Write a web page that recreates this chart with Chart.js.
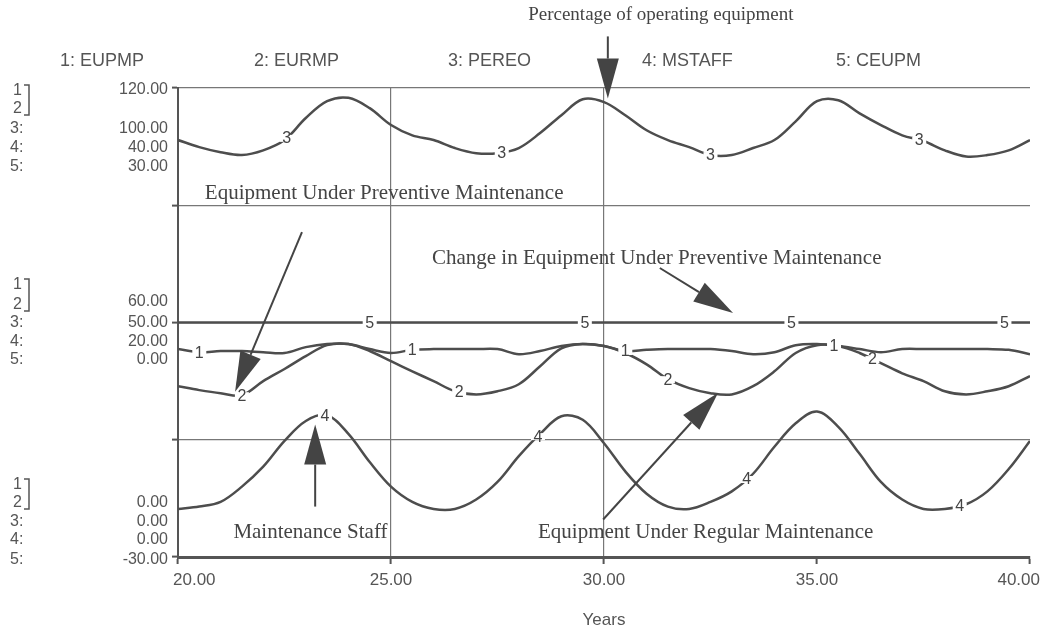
<!DOCTYPE html>
<html>
<head>
<meta charset="utf-8">
<script src="https://cdn.jsdelivr.net/npm/chart.js@4"></script>
<style>
  html, body { margin: 0; padding: 0; background: #fff; }
  #wrap { width: 1040px; height: 635px; }
</style>
</head>
<body>
<div id="wrap"><canvas id="stellaChart"></canvas></div>
<script>
// time axis (Years)
const years = [20, 20.5, 21, 21.5, 22, 22.5, 23, 23.5, 24, 24.5, 25, 25.5, 26, 26.5, 27, 27.5, 28, 28.5, 29, 29.5,
  30, 30.5, 31, 31.5, 32, 32.5, 33, 33.5, 34, 34.5, 35, 35.5, 36, 36.5, 37, 37.5, 38, 38.5, 39, 39.5, 40];

// 1: EUPMP
const eupmp = [53.2, 52.4, 52.7, 52.7, 52.4, 52.2, 53.7, 54.5, 54.5, 53.2, 52.2, 53.0, 53.2, 53.2, 53.2, 53.2, 51.9, 52.7, 54.0, 54.5,
  54.0, 52.7, 53.0, 53.2, 53.2, 53.2, 52.7, 51.9, 52.4, 54.2, 54.5, 54.0, 53.2, 52.4, 53.2, 53.2, 53.2, 53.2, 53.2, 53.0, 51.9];
// 2: EURMP
const eurmp = [43.7, 42.7, 41.9, 41.4, 45.0, 48.1, 51.4, 54.2, 54.5, 52.7, 50.1, 47.5, 45.0, 42.4, 41.6, 42.4, 44.2, 48.8, 53.4, 54.5,
  54.0, 52.2, 49.3, 45.5, 43.2, 41.9, 41.6, 43.7, 47.5, 52.2, 54.2, 54.0, 52.2, 49.6, 47.0, 45.0, 42.4, 41.6, 42.4, 43.7, 46.3];
// 3: PEREO
const pereo = [88.9, 87.4, 86.3, 85.7, 86.7, 88.9, 93.6, 97.2, 97.9, 95.7, 92.1, 89.9, 88.9, 87.2, 86.1, 86.1, 87.2, 90.4, 94.2, 97.6,
  97.0, 94.2, 91.0, 88.9, 87.4, 85.7, 85.7, 87.2, 88.9, 92.9, 97.2, 97.4, 94.6, 92.1, 89.9, 88.7, 86.7, 85.4, 85.7, 86.7, 88.9];
// 4: MSTAFF
const mstaff = [4.1, 4.3, 4.7, 6.0, 7.7, 9.9, 11.6, 12.1, 10.5, 8.1, 6.0, 4.7, 4.1, 4.1, 4.9, 6.4, 8.6, 10.5, 12.0, 11.7,
  9.7, 7.3, 5.4, 4.3, 4.1, 4.7, 5.6, 7.1, 9.4, 11.4, 12.4, 11.1, 8.8, 6.4, 4.9, 4.1, 4.1, 4.5, 5.6, 7.5, 9.9];
// 5: CEUPM
const ceupm = [0, 0, 0, 0, 0, 0, 0, 0, 0, 0, 0, 0, 0, 0, 0, 0, 0, 0, 0, 0,
  0, 0, 0, 0, 0, 0, 0, 0, 0, 0, 0, 0, 0, 0, 0, 0, 0, 0, 0, 0, 0];

const seriesNames = ['EUPMP', 'EURMP', 'PEREO', 'MSTAFF', 'CEUPM'];
// scale of each series: bottom / top (1 and 2 share one scale)
const scaleMin = [0, 0, 0, 0, -30];
const scaleMax = [120, 120, 100, 40, 30];
const xTicks = [20, 25, 30, 35, 40];

// where the curve numbers sit along each line (years)
const numberYears = [
  [20.5, 25.5, 30.5, 35.4],
  [21.5, 26.6, 31.5, 36.3],
  [22.55, 27.6, 32.5, 37.4],
  [23.45, 28.45, 33.35, 38.35],
  [24.5, 29.55, 34.4, 39.4]
];

// text notes and arrows, in years / grid units (0..4 from bottom to top)
const notes = [
  { text: 'Percentage of operating equipment', x: 28.22, y: 4.62, size: 19 },
  { text: 'Equipment Under Preventive Maintenance', x: 20.63, y: 3.1, size: 21 },
  { text: 'Change in Equipment Under Preventive Maintenance', x: 25.96, y: 2.55, size: 21 },
  { text: 'Maintenance Staff', x: 21.3, y: 0.21, size: 21 },
  { text: 'Equipment Under Regular Maintenance', x: 28.45, y: 0.21, size: 21 }
];
const arrows = [
  { from: [30.09, 4.44], to: [30.09, 3.91] },
  { from: [22.91, 2.77], to: [21.34, 1.41] },
  { from: [31.31, 2.465], to: [33.03, 2.08] },
  { from: [23.22, 0.43], to: [23.22, 1.13] },
  { from: [29.98, 0.32], to: [32.68, 1.40] }
];

const lineColor = '#4d4d4d';
const textColor = '#555';
const sans = '"Liberation Sans", Arial, sans-serif';
const serif = '"Liberation Serif", "Times New Roman", serif';

const seriesData = [eupmp, eurmp, pereo, mstaff, ceupm];
const seriesAxis = ['y12', 'y12', 'y3', 'y4', 'y5'];

function valueAt(arr, yr) {
  for (let i = 0; i < years.length - 1; i++) {
    if (yr >= years[i] && yr <= years[i + 1]) {
      const t = (yr - years[i]) / (years[i + 1] - years[i]);
      return arr[i] + (arr[i + 1] - arr[i]) * t;
    }
  }
  return arr[arr.length - 1];
}

function drawArrow(ctx, x1, y1, x2, y2) {
  const a = Math.atan2(y2 - y1, x2 - x1);
  const len = 40, half = 11;
  const bx = x2 - len * Math.cos(a), by = y2 - len * Math.sin(a);
  ctx.strokeStyle = '#444';
  ctx.lineWidth = 2;
  ctx.beginPath();
  ctx.moveTo(x1, y1);
  ctx.lineTo(bx, by);
  ctx.stroke();
  ctx.fillStyle = '#444';
  ctx.beginPath();
  ctx.moveTo(x2, y2);
  ctx.lineTo(bx + half * Math.sin(a), by - half * Math.cos(a));
  ctx.lineTo(bx - half * Math.sin(a), by + half * Math.cos(a));
  ctx.closePath();
  ctx.fill();
}

const stellaPlugin = {
  id: 'stella',
  afterDatasetsDraw(chart) {
    const ctx = chart.ctx;
    const xs = chart.scales.x;
    ctx.save();

    // curve numbers, with a small gap in the line
    ctx.font = '16px ' + sans;
    ctx.textAlign = 'center';
    ctx.textBaseline = 'middle';
    numberYears.forEach((list, s) => {
      const ys = chart.scales[seriesAxis[s]];
      list.forEach(yr => {
        const px = xs.getPixelForValue(yr);
        const py = ys.getPixelForValue(valueAt(seriesData[s], yr));
        ctx.fillStyle = '#fff';
        ctx.fillRect(px - 7, py - 3, 14, 7);
        ctx.fillStyle = '#444';
        ctx.fillText(String(s + 1), px, py + 1);
      });
    });
    ctx.restore();
  },
  afterDraw(chart) {
    const ctx = chart.ctx;
    const xs = chart.scales.x;
    const yg = chart.scales.yg;
    const area = chart.chartArea;
    ctx.save();
    ctx.fillStyle = textColor;

    // legend row
    ctx.font = '18px ' + sans;
    ctx.textAlign = 'left';
    ctx.textBaseline = 'middle';
    seriesNames.forEach((n, i) => {
      ctx.fillText((i + 1) + ': ' + n, 60 + i * 194, 61);
    });

    // left scale blocks: top, middle, bottom
    ctx.font = '16px ' + sans;
    const blocks = [
      { rows: [91, 109, 129, 148, 167], shared: 90, frac: 1 },
      { rows: [285, 305, 323, 342, 360], shared: 302, frac: 0.5 },
      { rows: [485, 503, 522, 540, 560], shared: 503, frac: 0 }
    ];
    blocks.forEach(b => {
      ctx.textAlign = 'left';
      ctx.fillText('1', 13, b.rows[0]);
      ctx.fillText('2', 13, b.rows[1]);
      ctx.fillText('3:', 10, b.rows[2]);
      ctx.fillText('4:', 10, b.rows[3]);
      ctx.fillText('5:', 10, b.rows[4]);
      ctx.strokeStyle = textColor;
      ctx.lineWidth = 1.5;
      ctx.beginPath();
      ctx.moveTo(24, b.rows[0] - 6);
      ctx.lineTo(29, b.rows[0] - 6);
      ctx.lineTo(29, b.rows[1] + 6);
      ctx.lineTo(24, b.rows[1] + 6);
      ctx.stroke();
      ctx.textAlign = 'right';
      const v = s => scaleMin[s] + (scaleMax[s] - scaleMin[s]) * b.frac;
      ctx.fillText(v(0).toFixed(2), 168, b.shared);
      ctx.fillText(v(2).toFixed(2), 168, b.rows[2]);
      ctx.fillText(v(3).toFixed(2), 168, b.rows[3]);
      ctx.fillText(v(4).toFixed(2), 168, b.rows[4]);
    });

    // x tick labels
    ctx.font = '17px ' + sans;
    xTicks.forEach((t, i) => {
      const px = xs.getPixelForValue(t);
      if (i === 0) { ctx.textAlign = 'left'; ctx.fillText(t.toFixed(2), px - 5, area.bottom + 23); }
      else if (i === xTicks.length - 1) { ctx.textAlign = 'right'; ctx.fillText(t.toFixed(2), px + 10, area.bottom + 23); }
      else { ctx.textAlign = 'center'; ctx.fillText(t.toFixed(2), px, area.bottom + 23); }
    });
    ctx.textAlign = 'center';
    ctx.fillText('Years', (area.left + area.right) / 2, 620);

    // notes and arrows
    ctx.fillStyle = '#444';
    ctx.textAlign = 'left';
    notes.forEach(n => {
      ctx.font = n.size + 'px ' + serif;
      ctx.fillText(n.text, xs.getPixelForValue(n.x), yg.getPixelForValue(n.y));
    });
    arrows.forEach(a => {
      drawArrow(ctx,
        xs.getPixelForValue(a.from[0]), yg.getPixelForValue(a.from[1]),
        xs.getPixelForValue(a.to[0]), yg.getPixelForValue(a.to[1]));
    });
    ctx.restore();
  }
};

const ctx = document.getElementById('stellaChart').getContext('2d');
const stellaChart = new Chart(ctx, {
  type: 'line',
  data: {
    labels: years,
    datasets: seriesData.map((d, i) => ({
      label: seriesNames[i],
      data: d.map((v, k) => ({ x: years[k], y: v })),
      yAxisID: seriesAxis[i],
      borderColor: lineColor,
      borderWidth: 2.5,
      pointRadius: 0,
      tension: 0.35,
      fill: false
    }))
  },
  options: {
    responsive: true,
    maintainAspectRatio: false,
    animation: false,
    layout: { padding: { top: 88, left: 170, right: 10, bottom: 0 } },
    plugins: { legend: { display: false }, tooltip: { enabled: false } },
    scales: {
      x: {
        type: 'linear',
        min: 20,
        max: 40,
        ticks: { stepSize: 5, display: false },
        grid: {
          color: c => (c.tick && (c.tick.value === 25 || c.tick.value === 30)) ? '#777' : 'rgba(0,0,0,0)',
          lineWidth: 1.2,
          tickColor: '#555',
          tickLength: 7,
          tickWidth: 2
        },
        border: { color: '#555', width: 3 },
        afterFit: s => { s.height = 78; }
      },
      yg: {
        position: 'left',
        min: 0,
        max: 4,
        ticks: { stepSize: 1, display: false },
        grid: { color: '#777', lineWidth: 1.2, tickColor: '#555', tickLength: 6, tickWidth: 2 },
        border: { color: '#555', width: 2 },
        afterFit: s => { s.width = 8; }
      },
      y12: { display: false, min: 0, max: 120 },
      y3: { display: false, min: 0, max: 100 },
      y4: { display: false, min: 0, max: 40 },
      y5: { display: false, min: -30, max: 30 }
    }
  },
  plugins: [stellaPlugin]
});
</script>
</body>
</html>
